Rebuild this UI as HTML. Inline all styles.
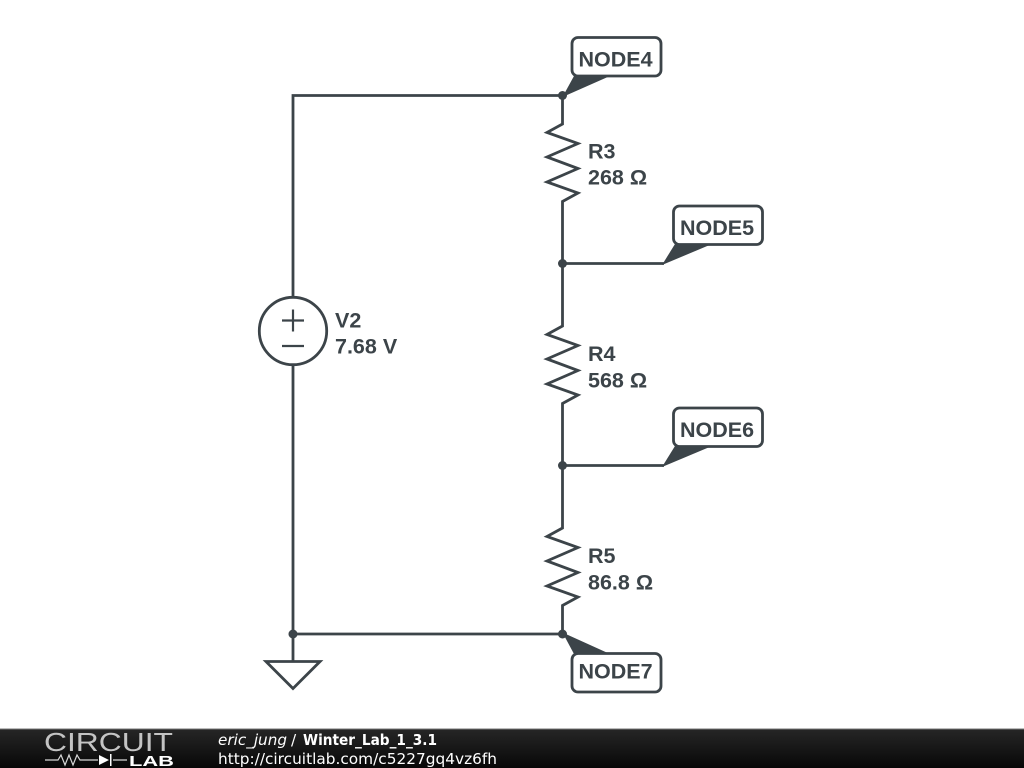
<!DOCTYPE html>
<html><head><meta charset="utf-8"><style>
html,body{margin:0;padding:0;background:#fff;width:1024px;height:768px;overflow:hidden}
svg{display:block}
</style></head><body>
<svg width="1024" height="768" viewBox="0 0 1024 768" xmlns="http://www.w3.org/2000/svg">
<defs>
<linearGradient id="f" x1="0" y1="0" x2="0" y2="1"><stop offset="0" stop-color="#262626"/><stop offset="0.5" stop-color="#171717"/><stop offset="1" stop-color="#070707"/></linearGradient>
</defs>
<g fill="none" stroke="#3c4449" stroke-width="2.8" stroke-linejoin="miter">
<path d="M293 297V95.5H562.5V124L547 132.500L578 143.500L547 157L578 168.500L547 182L578 193L562.500 201.500V326L547 334.500L578 345.500L547 359L578 370.500L547 384L578 395L562.500 403.500V528L547 536.500L578 547.500L547 561L578 572.500L547 586L578 597L562.500 605.500V634H293V364.500"/>
<path d="M562.500 263.500H664"/>
<path d="M562.500 465.500H664"/>
<path d="M293 634V661"/>
<path d="M266 661.500H320L293 688.500Z"/>
<circle cx="293" cy="331" r="33.700"/>
<path d="M282 320.500H304M293 309.500V331.500M282 346H304" stroke-width="2.200"/>
<rect x="572" y="37.500" width="89" height="38.500" rx="6"/>
<rect x="673.500" y="206" width="89" height="38.500" rx="6"/>
<rect x="673.500" y="408" width="89" height="38.500" rx="6"/>
<rect x="572" y="653.500" width="89" height="38.500" rx="6"/>
</g>
<g fill="#3c4449">
<circle cx="562.500" cy="95.500" r="4.500"/><circle cx="562.500" cy="263.500" r="4.500"/><circle cx="562.500" cy="465.500" r="4.500"/><circle cx="562.500" cy="634" r="4.500"/><circle cx="293" cy="634" r="4.500"/>
<path d="M562.500 97L574 76H610Z"/>
<path d="M662 265L675 244H712Z"/>
<path d="M662 467L675 446H712Z"/>
<path d="M562.500 632.500L574 654H610Z"/>
</g>
<g font-family="'Liberation Sans',sans-serif" font-weight="700" font-size="21.500" fill="#3c4449">
<text x="578.500" y="66.500">NODE4</text>
<text x="680" y="235">NODE5</text>
<text x="680" y="437">NODE6</text>
<text x="578.500" y="678.500">NODE7</text>
<text x="588" y="158.500">R3</text><text x="588" y="184.500">268 Ω</text>
<text x="588" y="361">R4</text><text x="588" y="387.500">568 Ω</text>
<text x="588" y="563">R5</text><text x="588" y="589.500">86.8 Ω</text>
<text x="335" y="327.500">V2</text><text x="335" y="353.500">7.68 V</text>
</g>
<rect x="0" y="729" width="1024" height="39" fill="url(#f)"/>
<rect x="0" y="728.500" width="1024" height="1" fill="#777"/>
<text x="44" y="751" font-family="'Liberation Sans',sans-serif" font-size="25.500" fill="#c4c4c4" textLength="129" lengthAdjust="spacingAndGlyphs" style="font-weight:400">CIRCUIT</text>
<path d="M45 760H58L61 755L65 765L69 755L73 765L77 755L80 760H98M113 760H127" fill="none" stroke="#d8d8d8" stroke-width="1.200"/>
<path d="M99 755V765L109 760ZM110 754H111.500V766H110Z" fill="#fff"/>
<text x="129" y="766" font-family="'Liberation Sans',sans-serif" font-weight="700" font-size="14.500" fill="#fff" textLength="45" lengthAdjust="spacingAndGlyphs">LAB</text>
<g font-family="'DejaVu Sans',sans-serif" font-size="15.300" fill="#fff">
<text x="218" y="745" font-style="italic" textLength="69" lengthAdjust="spacingAndGlyphs">eric_jung</text>
<text x="291" y="745">/</text>
<text x="303" y="745" font-weight="700" textLength="134" lengthAdjust="spacingAndGlyphs">Winter_Lab_1_3.1</text>
<text x="218" y="764" textLength="279" lengthAdjust="spacingAndGlyphs">http://circuitlab.com/c5227gq4vz6fh</text>
</g>
</svg>
</body></html>
